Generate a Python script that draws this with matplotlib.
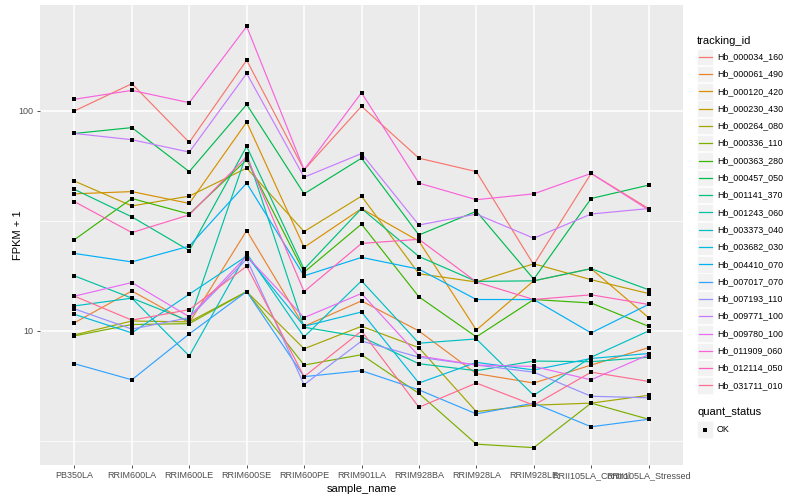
import matplotlib
matplotlib.use("Agg")
import matplotlib.pyplot as plt
from matplotlib.patches import Rectangle
from matplotlib.ticker import FixedLocator, NullFormatter
import numpy as np

plt.rcParams['font.family'] = ['Liberation Sans', 'DejaVu Sans']

# samples on the x axis
samples = ['PB350LA', 'RRIM600LA', 'RRIM600LE', 'RRIM600SE', 'RRIM600PE', 'RRIM901LA',
           'RRIM928BA', 'RRIM928LA', 'RRIM928LE', 'RRII105LA_Control', 'RRII105LA_Stressed']

tracking_ids = ['Hb_000034_160', 'Hb_000061_490', 'Hb_000120_420', 'Hb_000230_430',
                'Hb_000264_080', 'Hb_000336_110', 'Hb_000363_280', 'Hb_000457_050',
                'Hb_001141_370', 'Hb_001243_060', 'Hb_003373_040', 'Hb_003682_030',
                'Hb_004410_070', 'Hb_007017_070', 'Hb_007193_110', 'Hb_009771_100',
                'Hb_009780_100', 'Hb_011909_060', 'Hb_012114_050', 'Hb_031711_010']

# ggplot hue palette, 20 levels
colors = ['#F8766D', '#EA8331', '#D89000', '#C09B00', '#A3A500', '#7CAE00', '#39B600',
          '#00BB4E', '#00BF7D', '#00C1A3', '#00BFC4', '#00BAE0', '#00B0F6', '#35A2FF',
          '#9590FF', '#C77CFF', '#E76BF3', '#FA62DB', '#FF62BC', '#FF6C91']

# FPKM + 1, one list per gene
hb_000034_160 = [100, 133, 72, 170, 54, 105, 61, 53, 20, 52, 36]
hb_000061_490 = [10.9, 15.2, 10.9, 28.6, 10.5, 13.7, 10.0, 6.4, 5.8, 7.0, 8.4]
hb_000120_420 = [42, 43, 38, 89, 24, 36, 25.6, 10.1, 16.9, 19.2, 11.5]
hb_000230_430 = [48, 37, 41, 55, 28.3, 41, 18.2, 16.7, 20.2, 17.1, 14.8]
hb_000264_080 = [9.6, 11.1, 11.0, 15.1, 8.3, 10.5, 8.4, 4.3, 4.6, 4.7, 5.1]
hb_000336_110 = [9.5, 10.7, 10.8, 15.1, 7.0, 7.8, 5.2, 3.06, 2.95, 4.7, 3.97]
hb_000363_280 = [26, 40, 34, 60, 18.5, 30.6, 14.3, 9.4, 13.9, 13.4, 10.5]
hb_000457_050 = [79, 84, 53, 107, 42, 61, 27.3, 35, 17.2, 40, 46]
hb_001141_370 = [44, 33, 23.2, 69, 19.1, 36, 21.8, 16.8, 16.9, 19.2, 15.4]
hb_001243_060 = [17.8, 14.1, 11.1, 64, 10.4, 9.4, 7.1, 6.6, 7.3, 7.25, 7.6]
hb_003373_040 = [13.0, 14.1, 7.7, 22.5, 9.4, 16.9, 8.8, 9.2, 5.1, 7.6, 10.0]
hb_003682_030 = [11.9, 9.8, 14.7, 21.9, 10.5, 12.2, 5.8, 7.2, 6.65, 7.5, 7.9]
hb_004410_070 = [22.5, 20.6, 24.3, 47, 17.8, 21.6, 19.1, 13.9, 13.9, 9.8, 13.2]
hb_007017_070 = [7.1, 6.0, 9.7, 15.1, 6.2, 6.6, 5.4, 4.2, 4.7, 3.67, 3.97]
hb_007193_110 = [12.6, 10.2, 11.5, 21.2, 5.7, 9.0, 7.6, 7.0, 6.5, 5.05, 4.97]
hb_009771_100 = [79, 74, 65, 148, 50, 64, 30.3, 34, 26.4, 34, 36]
hb_009780_100 = [14.4, 16.6, 11.6, 21.9, 11.5, 14.8, 7.7, 7.0, 6.9, 6.0, 7.8]
hb_011909_060 = [113, 124, 109, 242, 54, 121, 47, 39.5, 42, 52, 35.5]
hb_012114_050 = [38.7, 28, 33.7, 62, 15.1, 25, 26.1, 16.7, 13.9, 14.6, 13.2]
hb_031711_010 = [14.4, 11.2, 12.5, 19.7, 6.2, 10.0, 4.5, 5.8, 4.6, 6.5, 5.9]

series = [hb_000034_160, hb_000061_490, hb_000120_420, hb_000230_430, hb_000264_080,
          hb_000336_110, hb_000363_280, hb_000457_050, hb_001141_370, hb_001243_060,
          hb_003373_040, hb_003682_030, hb_004410_070, hb_007017_070, hb_007193_110,
          hb_009771_100, hb_009780_100, hb_011909_060, hb_012114_050, hb_031711_010]

x = np.arange(len(samples))

fig = plt.figure(figsize=(8, 5), dpi=100)
ax = fig.add_axes([40 / 800, 35 / 500, 643 / 800, 460 / 500])
ax.set_facecolor('#EBEBEB')
for s in ax.spines.values():
    s.set_visible(False)

for vals, c in zip(series, colors):
    ax.plot(x, vals, color=c, lw=0.85, zorder=2)
for vals in series:
    ax.plot(x, vals, 's', color='black', ms=2.2, mew=0, zorder=3)

ax.set_yscale('log')
ax.set_ylim(2.46, 303)
ax.set_xlim(-0.6, len(samples) - 0.4)
ax.yaxis.set_major_locator(FixedLocator([10, 100]))
ax.yaxis.set_minor_locator(FixedLocator([10 ** 0.5, 10 ** 1.5, 10 ** 2.5]))
ax.yaxis.set_minor_formatter(NullFormatter())
ax.set_yticklabels(['10', '100'])
ax.set_xticks(x)
ax.set_xticklabels(samples)
ax.grid(which='major', color='white', lw=1.1, zorder=0)
ax.grid(which='minor', axis='y', color='white', lw=0.55, zorder=0)
ax.set_axisbelow(True)
ax.tick_params(which='major', length=2.5, width=0.6, color='#333333', labelsize=6.5,
               labelcolor='#4D4D4D', pad=2)
ax.tick_params(which='minor', length=0)
ax.set_xlabel('sample_name', fontsize=8, labelpad=3)
ax.set_ylabel('FPKM + 1', fontsize=8, labelpad=1)
ax.yaxis.set_label_coords(-17 / 643, 0.5)

# legend, drawn in pixel coordinates
lax = fig.add_axes([0, 0, 1, 1])
lax.set_xlim(0, 800)
lax.set_ylim(500, 0)
lax.axis('off')
lax.text(697, 40.5, 'tracking_id', fontsize=8, va='center', ha='left')
for i, (name, c) in enumerate(zip(tracking_ids, colors)):
    yc = 56.7 + 17.3 * i
    lax.add_patch(Rectangle((697, yc - 8.2), 16.4, 16.4, fc='#F2F2F2', ec='white', lw=0.5))
    lax.plot([698.5, 711.5], [yc, yc], color=c, lw=0.9)
    lax.text(717, yc, name, fontsize=6.4, va='center', ha='left')
lax.text(697, 411.7, 'quant_status', fontsize=8, va='center', ha='left')
lax.add_patch(Rectangle((697, 429.5 - 8.2), 16.4, 16.4, fc='#F2F2F2', ec='white', lw=0.5))
lax.plot([705.2], [429.5], 's', color='black', ms=2.2, mew=0)
lax.text(717, 429.5, 'OK', fontsize=6.4, va='center', ha='left')

fig.savefig('out.png', dpi=100)
